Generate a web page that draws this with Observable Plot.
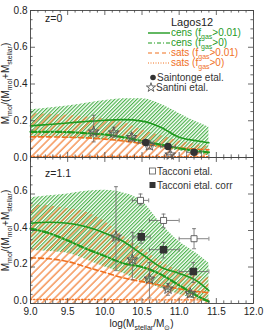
<!DOCTYPE html>
<html><head><meta charset="utf-8">
<script src="https://cdn.jsdelivr.net/npm/d3@7"></script>
<script src="https://cdn.jsdelivr.net/npm/@observablehq/plot@0.6"></script>
<style>
body{margin:0;background:#fff;font-family:"Liberation Sans",Arial,sans-serif}
#c svg{display:block;overflow:visible}
</style>
</head><body>
<svg width="0" height="0" style="position:absolute"><defs>
<pattern id="gh" patternUnits="userSpaceOnUse" width="2.6" height="2.6" patternTransform="rotate(45)">
<line x1="0.6" y1="0" x2="0.6" y2="2.6" stroke="#3fae3f" stroke-width="1.1"/>
</pattern>
<pattern id="oh" patternUnits="userSpaceOnUse" width="5.5" height="5.5" patternTransform="rotate(45)">
<line x1="1" y1="0" x2="1" y2="5.5" stroke="#f27a2e" stroke-width="1.2"/>
</pattern>
</defs></svg>
<div id="c"></div>
<script>
// ---------- data ----------
const mass = [9.0, 9.25, 9.5, 9.75, 10.0, 10.25, 10.5, 10.75, 11.0, 11.25, 11.4];

// z = 0
const z0_censBandLo = [0.11, 0.11, 0.105, 0.10, 0.095, 0.085, 0.07, 0.05, 0.035, 0.02, 0.01];
const z0_censBandHi = [0.26, 0.27, 0.28, 0.295, 0.31, 0.32, 0.32, 0.29, 0.24, 0.19, 0.165];
const z0_satsBandLo = [0, 0, 0, 0, 0, 0, 0, 0, 0, 0, 0];
const z0_satsBandHi = [0.24, 0.235, 0.23, 0.22, 0.21, 0.19, 0.15, 0.12, 0.09, 0.07, 0.06];
const z0_cens001 = [0.172, 0.18, 0.188, 0.196, 0.203, 0.206, 0.198, 0.165, 0.11, 0.09, 0.08];
const z0_cens0   = [0.14, 0.14, 0.138, 0.132, 0.125, 0.11, 0.09, 0.07, 0.05, 0.035, 0.028];
const z0_sats001 = [0.112, 0.112, 0.11, 0.107, 0.10, 0.09, 0.075, 0.062, 0.052, 0.045, 0.042];
const z0_sats0   = [0.006, 0.006, 0.006, 0.006, 0.006, 0.006, 0.006, 0.005, 0.005, 0.005, 0.005];

// z = 1.1
const z1_censBandLo = [0.29, 0.285, 0.275, 0.24, 0.20, 0.165, 0.12, 0.085, 0.05, 0.02, 0.005];
const z1_censBandHi = [0.58, 0.59, 0.60, 0.615, 0.62, 0.605, 0.56, 0.44, 0.34, 0.27, 0.22];
const z1_satsBandLo = [0, 0, 0, 0, 0, 0, 0, 0, 0, 0, 0];
const z1_satsBandHi = [0.54, 0.535, 0.52, 0.50, 0.45, 0.37, 0.30, 0.23, 0.18, 0.15, 0.14];
const z1_cens001 = [0.44, 0.445, 0.44, 0.42, 0.385, 0.34, 0.27, 0.20, 0.165, 0.12, 0.07];
const z1_cens0   = [0.41, 0.385, 0.345, 0.30, 0.26, 0.22, 0.20, 0.16, 0.10, 0.04, 0.01];
const z1_sats001 = [0.25, 0.245, 0.23, 0.20, 0.17, 0.14, 0.12, 0.10, 0.08, 0.065, 0.06];
const z1_sats0   = [0.022, 0.022, 0.022, 0.022, 0.021, 0.021, 0.02, 0.02, 0.02, 0.02, 0.02];

// observations, z = 0
const saint_x  = [10.55, 10.85, 11.2];
const saint_y  = [0.082, 0.06, 0.028];
const saint_xlo = [10.45, 10.75, 11.1];
const saint_xhi = [10.65, 10.95, 11.3];
const saint_ylo = [0.07, 0.048, 0.016];
const saint_yhi = [0.094, 0.072, 0.04];

const sant0_x  = [9.85, 10.12, 10.36, 10.6, 10.88];
const sant0_y  = [0.14, 0.135, 0.11, 0.065, 0.015];
const sant0_xlo = [9.8, 10.07, 10.31, 10.55, 10.83];
const sant0_xhi = [9.9, 10.17, 10.41, 10.65, 10.93];
const sant0_ylo = [0.085, 0.11, 0.09, 0.045, 0.0];
const sant0_yhi = [0.23, 0.165, 0.13, 0.085, 0.03];

// observations, z = 1.1
const sant1_x  = [10.15, 10.37, 10.6, 10.85, 11.15];
const sant1_y  = [0.365, 0.24, 0.135, 0.08, 0.055];
const sant1_xlo = [10.1, 10.32, 10.55, 10.8, 11.1];
const sant1_xhi = [10.2, 10.42, 10.65, 10.9, 11.2];
const sant1_ylo = [0.18, 0.13, 0.03, 0.045, 0.035];
const sant1_yhi = [0.64, 0.39, 0.225, 0.11, 0.07];

const tac_x  = [10.48, 10.79, 11.2];
const tac_y  = [0.565, 0.455, 0.355];
const tac_xlo = [10.37, 10.6, 11.0];
const tac_xhi = [10.59, 11.0, 11.4];
const tac_ylo = [0.54, 0.415, 0.30];
const tac_yhi = [0.60, 0.49, 0.41];

const tacc_x  = [10.49, 10.79, 11.19];
const tacc_y  = [0.365, 0.295, 0.175];
const tacc_xlo = [10.39, 10.6, 11.0];
const tacc_xhi = [10.61, 11.0, 11.4];
const tacc_ylo = [0.33, 0.25, 0.115];
const tacc_yhi = [0.40, 0.335, 0.225];

const xTickLabels = [9.0, 9.5, 10.0, 10.5, 11.0, 11.5, 12.0];
const xMinor = [9.1,9.2,9.3,9.4,9.6,9.7,9.8,9.9,10.1,10.2,10.3,10.4,10.6,10.7,10.8,10.9,11.1,11.2,11.3,11.4,11.6,11.7,11.8,11.9];
const yTickLabels = [0.0, 0.2, 0.4, 0.6, 0.8];
const yMinor = [0.05,0.1,0.15,0.25,0.3,0.35,0.45,0.5,0.55,0.65,0.7,0.75];

// ---------- styles ----------
const GREEN = "#1f9a1f", ORANGE = "#f0701f", GRAY = "#666", DARK = "#333";
const W = 269, ML = 30, MR = 16;
const XD = [9, 12], YD = [0, 0.8];
const pxX = (W - ML - MR) / (XD[1] - XD[0]);
const pxY = 147 / (YD[1] - YD[0]);
const majX = 5 / pxY, minX = 2.6 / pxY;
const majY = 5 / pxX, minY = 2.6 / pxX;

const capH = {draw(ctx, size) { const r = Math.sqrt(size / Math.PI); ctx.moveTo(-r, 0); ctx.lineTo(r, 0); }};
const capV = {draw(ctx, size) { const r = Math.sqrt(size / Math.PI); ctx.moveTo(0, -r); ctx.lineTo(0, r); }};

function table(cols) {
  return mass.map((m, i) => { const o = {m}; for (const k in cols) o[k] = cols[k][i]; return o; });
}
function obs(x, y, xlo, xhi, ylo, yhi) {
  return x.map((v, i) => ({x: v, y: y[i], xlo: xlo[i], xhi: xhi[i], ylo: ylo[i], yhi: yhi[i]}));
}
function errMarks(d) {
  return [
    Plot.ruleX(d, {x: "x", y1: "ylo", y2: "yhi", stroke: GRAY, strokeWidth: 0.8}),
    Plot.ruleY(d, {y: "y", x1: "xlo", x2: "xhi", stroke: GRAY, strokeWidth: 0.8}),
    Plot.dot(d, {x: "x", y: "ylo", symbol: capH, r: 2, stroke: GRAY, strokeWidth: 0.8}),
    Plot.dot(d, {x: "x", y: "yhi", symbol: capH, r: 2, stroke: GRAY, strokeWidth: 0.8}),
    Plot.dot(d, {x: "xlo", y: "y", symbol: capV, r: 2, stroke: GRAY, strokeWidth: 0.8}),
    Plot.dot(d, {x: "xhi", y: "y", symbol: capV, r: 2, stroke: GRAY, strokeWidth: 0.8})
  ];
}
function frameTicks() {
  return [
    Plot.ruleX(xTickLabels, {x: d => d, y1: YD[0], y2: YD[0] + majX, stroke: "#444", strokeWidth: 0.8}),
    Plot.ruleX(xTickLabels, {x: d => d, y1: YD[1] - majX, y2: YD[1], stroke: "#444", strokeWidth: 0.8}),
    Plot.ruleX(xMinor, {x: d => d, y1: YD[0], y2: YD[0] + minX, stroke: "#444", strokeWidth: 0.8}),
    Plot.ruleX(xMinor, {x: d => d, y1: YD[1] - minX, y2: YD[1], stroke: "#444", strokeWidth: 0.8}),
    Plot.ruleY(yTickLabels, {y: d => d, x1: XD[0], x2: XD[0] + majY, stroke: "#444", strokeWidth: 0.8}),
    Plot.ruleY(yTickLabels, {y: d => d, x1: XD[1] - majY, x2: XD[1], stroke: "#444", strokeWidth: 0.8}),
    Plot.ruleY(yMinor, {y: d => d, x1: XD[0], x2: XD[0] + minY, stroke: "#444", strokeWidth: 0.8}),
    Plot.ruleY(yMinor, {y: d => d, x1: XD[1] - minY, x2: XD[1], stroke: "#444", strokeWidth: 0.8}),
    Plot.frame({stroke: "#444", strokeWidth: 0.9})
  ];
}
function modelMarks(t) {
  return [
    Plot.areaY(t, {x: "m", y1: "cLo", y2: "cHi", fill: "url(#gh)", curve: "monotone-x"}),
    Plot.areaY(t, {x: "m", y1: "sLo", y2: "sHi", fill: "url(#oh)", curve: "monotone-x"}),
    Plot.lineY(t, {x: "m", y: "s0", stroke: ORANGE, strokeWidth: 1.4, strokeDasharray: "1.2,2", curve: "monotone-x"}),
    Plot.lineY(t, {x: "m", y: "s1", stroke: ORANGE, strokeWidth: 1.6, strokeDasharray: "5,3", curve: "monotone-x"}),
    Plot.lineY(t, {x: "m", y: "c0", stroke: GREEN, strokeWidth: 2.2, strokeDasharray: "6,2.5,1.5,2.5", curve: "monotone-x"}),
    Plot.lineY(t, {x: "m", y: "c1", stroke: GREEN, strokeWidth: 1.6, curve: "monotone-x"})
  ];
}

const t0 = table({cLo: z0_censBandLo, cHi: z0_censBandHi, sLo: z0_satsBandLo, sHi: z0_satsBandHi,
                  c1: z0_cens001, c0: z0_cens0, s1: z0_sats001, s0: z0_sats0});
const t1 = table({cLo: z1_censBandLo, cHi: z1_censBandHi, sLo: z1_satsBandLo, sHi: z1_satsBandHi,
                  c1: z1_cens001, c0: z1_cens0, s1: z1_sats001, s0: z1_sats0});
const saint = obs(saint_x, saint_y, saint_xlo, saint_xhi, saint_ylo, saint_yhi);
const sant0 = obs(sant0_x, sant0_y, sant0_xlo, sant0_xhi, sant0_ylo, sant0_yhi);
const sant1 = obs(sant1_x, sant1_y, sant1_xlo, sant1_xhi, sant1_ylo, sant1_yhi);
const tac = obs(tac_x, tac_y, tac_xlo, tac_xhi, tac_ylo, tac_yhi);
const tacc = obs(tacc_x, tacc_y, tacc_xlo, tacc_xhi, tacc_ylo, tacc_yhi);

const common = {width: W, marginLeft: ML, marginRight: MR,
  y: {domain: YD},
  style: {fontFamily: "Liberation Sans, Arial, sans-serif", fontSize: "10px", color: "#222", background: "transparent"}};

const plotTop = Plot.plot({...common, height: 157, marginTop: 10, marginBottom: 0,
  x: {domain: XD, axis: null},
  marks: [
    ...modelMarks(t0),
    ...errMarks(sant0),
    ...errMarks(saint),
    Plot.dot(sant0, {x: "x", y: "y", symbol: "star", r: 3.4, stroke: "#555", fill: "none", strokeWidth: 0.9}),
    Plot.dot(saint, {x: "x", y: "y", r: 3, fill: DARK, stroke: DARK}),
    ...frameTicks(),
    Plot.axisY(yTickLabels, {tickSize: 0, tickPadding: 3, tickFormat: d3.format(".1f"), label: null, fontSize: 10})
  ]});

const plotBot = Plot.plot({...common, height: 173, marginTop: 0, marginBottom: 27,
  x: {domain: XD},
  marks: [
    ...modelMarks(t1),
    ...errMarks(sant1),
    ...errMarks(tac),
    ...errMarks(tacc),
    Plot.dot(sant1, {x: "x", y: "y", symbol: "star", r: 3.4, stroke: "#555", fill: "none", strokeWidth: 0.9}),
    Plot.dot(tac, {x: "x", y: "y", symbol: "square", r: 3.4, stroke: "#555", fill: "white", strokeWidth: 0.9}),
    Plot.dot(tacc, {x: "x", y: "y", symbol: "square", r: 3.4, fill: DARK, stroke: DARK}),
    ...frameTicks(),
    Plot.axisY(yTickLabels.slice(0, 4), {tickSize: 0, tickPadding: 3, dy: -3, tickFormat: d3.format(".1f"), label: null, fontSize: 10}),
    Plot.axisX(xTickLabels, {tickSize: 0, tickPadding: 4, tickFormat: d3.format(".1f"), label: null, fontSize: 10})
  ]});

document.getElementById("c").append(plotTop, plotBot);

// ---------- annotations (legend, titles) ----------
function rich(svg, x, y, parts, opts = {}) {
  const size = opts.size || 10;
  const t = d3.select(svg).append("text").attr("x", x).attr("y", y)
    .attr("font-size", size).attr("fill", opts.fill || "#222")
    .attr("text-anchor", opts.anchor || "start");
  if (opts.rotate) t.attr("transform", `rotate(${opts.rotate},${x},${y})`);
  let down = false;
  for (const p of parts) {
    const isSub = typeof p !== "string";
    const s = t.append("tspan").text(isSub ? p.sub : p);
    if (isSub) { s.attr("font-size", size * 0.7); if (!down) { s.attr("dy", size * 0.25); down = true; } }
    else { if (down) { s.attr("dy", -size * 0.25); down = false; } }
  }
  return t;
}

const sTop = d3.select(plotTop);
rich(plotTop, 45, 22, ["z=0"], {size: 10.5});
rich(plotTop, 171, 26, ["Lagos12"], {size: 11});
const lgY = [33, 43, 53, 63];
const lgStyle = [
  {stroke: GREEN, w: 1.4, dash: null},
  {stroke: GREEN, w: 1.2, dash: "4,2,1,2"},
  {stroke: ORANGE, w: 1.2, dash: "4,3"},
  {stroke: ORANGE, w: 1.0, dash: "1,1.5"}
];
const lgText = [["cens (f", {sub: "gas"}, ">0.01)"], ["cens (f", {sub: "gas"}, ">0)"],
                ["sats (f", {sub: "gas"}, ">0.01)"], ["sats (f", {sub: "gas"}, ">0)"]];
lgY.forEach((y, i) => {
  const l = sTop.append("line").attr("x1", 148).attr("x2", 170).attr("y1", y).attr("y2", y)
    .attr("stroke", lgStyle[i].stroke).attr("stroke-width", lgStyle[i].w);
  if (lgStyle[i].dash) l.attr("stroke-dasharray", lgStyle[i].dash);
  rich(plotTop, 171, y + 3, lgText[i], {size: 10, fill: i < 2 ? GREEN : ORANGE});
});
sTop.append("circle").attr("cx", 153).attr("cy", 77.5).attr("r", 2.8).attr("fill", DARK);
rich(plotTop, 157, 81, ["Saintonge etal."], {size: 10, fill: "#333"});
sTop.append("path").attr("d", d3.symbol(d3.symbolStar, 26)()).attr("transform", "translate(151,87.5)")
  .attr("fill", "none").attr("stroke", "#555").attr("stroke-width", 0.9);
rich(plotTop, 156, 90.5, ["Santini etal."], {size: 10, fill: "#333"});
rich(plotTop, 9, 83.5, ["M", {sub: "mol"}, "/(M", {sub: "mol"}, "+M", {sub: "stellar"}, ")"], {size: 10, anchor: "middle", rotate: -90});

const sBot = d3.select(plotBot);
rich(plotBot, 45, 20, ["z=1.1"], {size: 10.5});
sBot.append("rect").attr("x", 149.5).attr("y", 11).attr("width", 6).attr("height", 6).attr("fill", "white").attr("stroke", "#555").attr("stroke-width", 0.8);
rich(plotBot, 157, 18, ["Tacconi etal."], {size: 10, fill: "#333"});
sBot.append("rect").attr("x", 149.5).attr("y", 25).attr("width", 6).attr("height", 6).attr("fill", DARK);
rich(plotBot, 157, 32, ["Tacconi etal. corr"], {size: 10, fill: "#333"});
rich(plotBot, 9, 73.5, ["M", {sub: "mol"}, "/(M", {sub: "mol"}, "+M", {sub: "stellar"}, ")"], {size: 10, anchor: "middle", rotate: -90});
rich(plotBot, 141.5, 170, ["log(M", {sub: "stellar"}, "/M", {sub: "⊙"}, ")"], {size: 10, anchor: "middle"});
</script>
</body></html>
